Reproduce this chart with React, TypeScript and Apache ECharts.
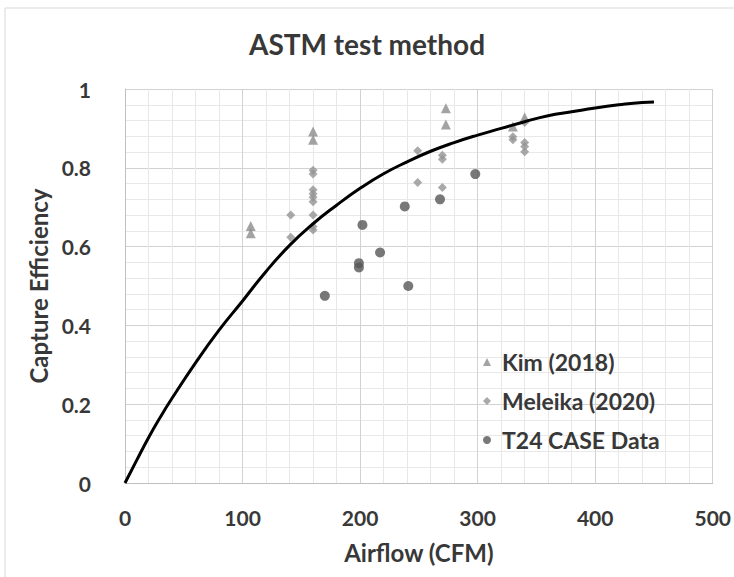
import React, { useEffect, useRef } from "react";
import * as echarts from "echarts";

const kimData: number[][] = [
  [107, 0.652], [107, 0.634], [160, 0.892], [160, 0.871],
  [273, 0.951], [273, 0.91], [330, 0.905], [340, 0.928],
];
const meleikaData: number[][] = [
  [141, 0.68], [141, 0.624],
  [160, 0.794], [160, 0.784], [160, 0.744], [160, 0.734], [160, 0.725],
  [160, 0.714], [160, 0.68], [160, 0.651], [160, 0.642],
  [249, 0.843], [249, 0.763], [270, 0.832], [270, 0.822], [270, 0.75],
  [330, 0.879], [330, 0.871], [340, 0.915], [340, 0.864], [340, 0.854], [340, 0.841],
];
const t24Data: number[][] = [
  [170, 0.475], [202, 0.655], [199, 0.558], [199, 0.547], [217, 0.585],
  [238, 0.702], [241, 0.5], [268, 0.72], [298, 0.784],
];
const curveData: number[][] = [
  [0, 0], [10, 0.058], [20, 0.115], [30, 0.167], [40, 0.215], [60, 0.305],
  [80, 0.388], [100, 0.462], [120, 0.537], [140, 0.603], [160, 0.658],
  [180, 0.705], [200, 0.748], [220, 0.785], [240, 0.815], [260, 0.842],
  [280, 0.864], [300, 0.883], [320, 0.9], [340, 0.917], [360, 0.932],
  [380, 0.942], [400, 0.952], [420, 0.96], [440, 0.966], [450, 0.967],
];
const seriesNames = ["Kim (2018)", "Meleika (2020)", "T24 CASE Data"];

const FONT = "Lato";
const TXT = "#383838";

export default function App() {
  const ref = useRef<HTMLDivElement>(null);
  useEffect(() => {
    if (!ref.current) return;
    const chart = echarts.init(ref.current, undefined, { renderer: "svg" });
    chart.setOption({
      animation: false,
      backgroundColor: "#ffffff",
      title: {
        text: "ASTM test method",
        left: "center",
        top: 25,
        textStyle: { fontFamily: FONT, fontSize: 28, fontWeight: "bold", color: TXT },
      },
      graphic: [
        {
          type: "rect",
          shape: { x: 5, y: 8, width: 760, height: 620 },
          style: { fill: "none", stroke: "#d9d9d9", lineWidth: 1 },
          silent: true,
        },
      ],
      legend: {
        data: seriesNames,
        orient: "vertical",
        left: 478,
        top: 345,
        itemWidth: 8,
        itemHeight: 8,
        itemGap: 15,
        textStyle: {
          fontFamily: FONT,
          fontSize: 23,
          lineHeight: 24,
          fontWeight: "bold",
          color: TXT,
          padding: [0, 0, 0, 6],
        },
      },
      grid: { left: 125, right: 19, top: 89, bottom: 94, containLabel: false },
      xAxis: {
        type: "value",
        min: 0,
        max: 500,
        interval: 100,
        name: "Airflow (CFM)",
        nameLocation: "middle",
        nameGap: 57,
        nameTextStyle: { fontFamily: FONT, fontSize: 24, fontWeight: "bold", color: TXT },
        axisLine: { show: true, lineStyle: { color: "#bfbfbf", width: 1 } },
        axisTick: { show: false },
        axisLabel: { margin: 24, fontFamily: FONT, fontSize: 21, fontWeight: "bold", color: TXT },
        splitLine: { show: true, lineStyle: { color: "#d2d2d2", width: 1 } },
        minorTick: { show: false, splitNumber: 5 },
        minorSplitLine: { show: true, lineStyle: { color: "#e8e8e8", width: 1 } },
      },
      yAxis: {
        type: "value",
        min: 0,
        max: 1,
        interval: 0.2,
        name: "Capture Efficiency",
        nameLocation: "middle",
        nameGap: 75,
        nameTextStyle: { fontFamily: FONT, fontSize: 24, fontWeight: "bold", color: TXT },
        axisLine: { show: true, lineStyle: { color: "#bfbfbf", width: 1 } },
        axisTick: { show: false },
        axisLabel: { margin: 34, fontFamily: FONT, fontSize: 21, fontWeight: "bold", color: TXT },
        splitLine: { show: true, lineStyle: { color: "#d2d2d2", width: 1 } },
        minorTick: { show: false, splitNumber: 5 },
        minorSplitLine: { show: true, lineStyle: { color: "#e8e8e8", width: 1 } },
      },
      series: [
        {
          name: seriesNames[0],
          type: "scatter",
          symbol: "triangle",
          symbolSize: 10,
          itemStyle: { color: "#8c8c8c" },
          data: kimData,
          z: 2,
        },
        {
          name: seriesNames[1],
          type: "scatter",
          symbol: "diamond",
          symbolSize: 9,
          itemStyle: { color: "#949494" },
          data: meleikaData,
          z: 2,
        },
        {
          name: seriesNames[2],
          type: "scatter",
          symbol: "circle",
          symbolSize: 10,
          itemStyle: { color: "#565656" },
          data: t24Data,
          z: 2,
        },
        {
          name: "Curve",
          type: "line",
          smooth: true,
          showSymbol: false,
          lineStyle: { color: "#000000", width: 3 },
          data: curveData,
          z: 3,
        },
      ],
    });
    return () => chart.dispose();
  }, []);
  return (
    <div
      ref={ref}
      style={{ position: "fixed", left: 0, top: 0, width: 734, height: 577 }}
    />
  );
}
